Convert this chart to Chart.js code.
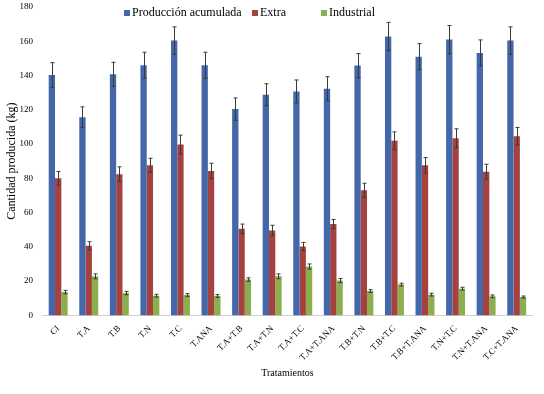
<!DOCTYPE html>
<html lang="es">
<head>
  <meta charset="UTF-8">
  <title>Cantidad producida por tratamiento</title>
  <script src="https://cdn.jsdelivr.net/npm/chart.js"></script>
  <style>
    body { margin: 0; background: #fff; }
  </style>
</head>
<body>
  <canvas id="myChart" width="544" height="394"></canvas>
  <script>
    // categories
    const tratamientos = ['CI', 'T.A', 'T.B', 'T.N', 'T.C', 'T.ANA', 'T.A+T.B', 'T.A+T.N', 'T.A+T.C',
      'T.A+T.ANA', 'T.B+T.N', 'T.B+T.C', 'T.B+T.ANA', 'T.N+T.C', 'T.N+T.ANA', 'T.C+T.ANA'];

    // series values (kg)
    const produccion = [140.3, 115.7, 140.7, 146, 160.4, 146, 120.4, 128.8, 130.7, 132.3, 145.8, 162.8, 151, 161, 153.2, 160.4];
    const extra      = [80, 40.6, 82.4, 87.6, 99.7, 84.3, 50.5, 49.6, 40.2, 53.3, 73, 101.9, 87.6, 103.4, 83.9, 104.6];
    const industrial = [13.6, 22.8, 13, 11.5, 11.9, 11.3, 20.9, 22.8, 28.5, 20.3, 14.2, 18, 12.1, 15.6, 11.1, 10.7];

    // error bars (+/-)
    const errProduccion = [7.2, 6, 7, 7.6, 8, 7.6, 6.5, 6.4, 6.7, 7, 7, 8.2, 7.6, 8.2, 7.6, 8];
    const errExtra      = [4, 2.4, 4.3, 4.1, 5.5, 4.5, 2.8, 3, 2.4, 2.7, 4.1, 5.2, 4.5, 5.5, 4.3, 5.1];
    const errIndustrial = [1, 1.4, 1, 0.8, 0.8, 0.8, 1, 1.4, 1.5, 1.2, 0.8, 0.8, 0.8, 0.8, 0.8, 0.6];

    const yTicks = [0, 20, 40, 60, 80, 100, 120, 140, 160, 180];

    const serif = 'Liberation Serif';

    // draws the +/- bars on top of each bar
    const errorBars = {
      id: 'errorBars',
      afterDatasetsDraw(chart) {
        const ctx = chart.ctx;
        const y = chart.scales.y;
        ctx.save();
        ctx.strokeStyle = '#3a3a3a';
        ctx.lineWidth = 1;
        chart.data.datasets.forEach((ds, i) => {
          const meta = chart.getDatasetMeta(i);
          meta.data.forEach((bar, j) => {
            const v = ds.data[j];
            const e = ds.errors[j];
            const x = Math.round(bar.x) + 0.5;
            const top = y.getPixelForValue(v + e);
            const bot = y.getPixelForValue(v - e);
            ctx.beginPath();
            ctx.moveTo(x, top);
            ctx.lineTo(x, bot);
            ctx.moveTo(x - 2, top);
            ctx.lineTo(x + 2, top);
            ctx.moveTo(x - 2, bot);
            ctx.lineTo(x + 2, bot);
            ctx.stroke();
          });
        });
        ctx.restore();
      }
    };

    // legend drawn by hand: it sits inside the plot, left of centre, one row
    const legendRow = {
      id: 'legendRow',
      afterDraw(chart) {
        const ctx = chart.ctx;
        const xs = [124, 252, 321];
        const yMid = 13;
        ctx.save();
        ctx.font = '12px ' + serif;
        ctx.textBaseline = 'middle';
        chart.data.datasets.forEach((ds, i) => {
          ctx.fillStyle = ds.backgroundColor;
          ctx.fillRect(xs[i], yMid - 3, 6, 6);
          ctx.fillStyle = '#000';
          ctx.fillText(ds.label, xs[i] + 8, yMid);
        });
        ctx.restore();
      }
    };

    const ctx = document.getElementById('myChart').getContext('2d');
    new Chart(ctx, {
      type: 'bar',
      data: {
        labels: tratamientos,
        datasets: [
          { label: 'Producción acumulada', data: produccion, errors: errProduccion, backgroundColor: '#4467A9' },
          { label: 'Extra', data: extra, errors: errExtra, backgroundColor: '#A5423F' },
          { label: 'Industrial', data: industrial, errors: errIndustrial, backgroundColor: '#8BAF4E' }
        ]
      },
      options: {
        responsive: false,
        animation: false,
        categoryPercentage: 0.62,
        barPercentage: 1.0,
        layout: { padding: { top: 7, right: 12, left: 5, bottom: 15 } },
        plugins: {
          legend: { display: false },
          tooltip: { enabled: false }
        },
        scales: {
          x: {
            grid: { display: false },
            border: { display: true, color: '#d0d0d0' },
            ticks: {
              color: '#000',
              minRotation: 45,
              maxRotation: 45,
              padding: 0,
              font: { family: serif, size: 9 }
            },
            title: {
              display: true,
              text: 'Tratamientos',
              color: '#000',
              font: { family: serif, size: 10 },
              padding: { top: 4, bottom: 0 }
            }
          },
          y: {
            min: 0,
            max: 180,
            afterBuildTicks(scale) {
              scale.ticks = yTicks.map(v => ({ value: v }));
            },
            // no marks drawn, tickLength only sets the gap to the labels
            grid: { display: false, drawTicks: true, tickLength: 10 },
            border: { display: false },
            ticks: {
              color: '#000',
              padding: 0,
              font: { family: serif, size: 9 }
            },
            title: {
              display: true,
              text: 'Cantidad producida (kg)',
              color: '#000',
              font: { family: serif, size: 12 },
              padding: { top: 0, bottom: 0 }
            }
          }
        }
      },
      plugins: [errorBars, legendRow]
    });
  </script>
</body>
</html>
